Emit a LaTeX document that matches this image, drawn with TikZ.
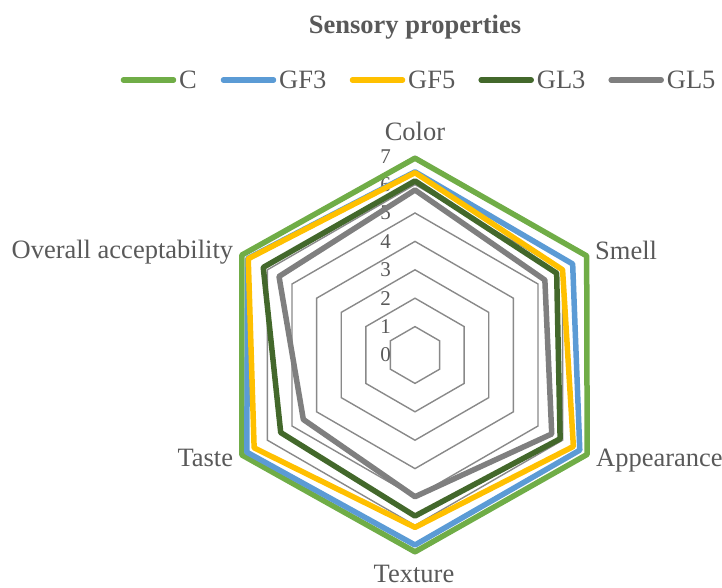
\documentclass[tikz,border=0pt]{standalone}
\usepackage{fontspec}
\setmainfont{Liberation Serif}
\newfontfamily\chartfont{Liberation Serif}
\usepackage{tikz}
\usetikzlibrary{calc}

\definecolor{txtgray}{HTML}{595959}
\definecolor{ringgray}{HTML}{898989}
\definecolor{serC}{HTML}{70AD47}
\definecolor{serGFiii}{HTML}{5B9BD5}
\definecolor{serGFv}{HTML}{FFC000}
\definecolor{serGLiii}{HTML}{43682B}
\definecolor{serGLv}{HTML}{7F7F7F}

\begin{document}
\begin{tikzpicture}[x=1pt, y=1pt,
      grid line/.style={draw=ringgray, line width=1.4},
      series/.style={line width=5.5, line join=round},
      legend line/.style={line width=5.5, line cap=round},
      every node/.style={text=txtgray, inner sep=0pt},
      axis label/.style={font=\chartfont\fontsize{26.5}{30}\selectfont},
      tick label/.style={font=\chartfont\fontsize{21}{24}\selectfont, anchor=east},
      title/.style={font=\chartfont\fontsize{26.5}{30}\selectfont\bfseries}
      ]
      \useasboundingbox (-415,-232) rectangle (307,355);
      \def\rstep{28.4}

      % title and legend
      \node[title, anchor=base] (Title) at (0,321.7) {Sensory properties};
      \foreach \name/\col/\xx in {C/serC/-236, GF3/serGFiii/-136, GF5/serGFv/-7,
                                  GL3/serGLiii/121.7, GL5/serGLv/251.7}{
        \node[axis label, anchor=west] (leg\name) at (\xx,275) {\name};
        \draw[legend line, draw=\col] ($(leg\name.west)+(-5.5,0)$) -- ++(-50,0);
      }

      % grid rings 1..7
      \foreach \v in {1,...,7}
        \draw[grid line] (90:{\v*\rstep}) -- (30:{\v*\rstep}) -- (-30:{\v*\rstep})
          -- (-90:{\v*\rstep}) -- (-150:{\v*\rstep}) -- (150:{\v*\rstep}) -- cycle;

      % scale
      \foreach \v in {0,...,7}
        \node[tick label] (tick\v) at (-24,{\v*\rstep}) {\v};

      % series: Color, Smell, Appearance, Texture, Taste, Overall
      \foreach \col/\a/\b/\c/\d/\e/\f in {
          serC/6.93/6.98/7.0/6.93/7.04/7.04,
          serGFiii/6.45/6.41/6.7/6.69/6.84/6.8,
          serGFv/6.42/6.0/6.44/6.07/6.54/6.78,
          serGLiii/6.13/5.76/5.9/5.67/5.46/6.17,
          serGLv/5.81/5.28/5.56/4.99/4.54/5.53}
        \draw[series, draw=\col] (90:{\a*\rstep}) -- (30:{\b*\rstep}) -- (-30:{\c*\rstep})
          -- (-90:{\d*\rstep}) -- (-150:{\e*\rstep}) -- (150:{\f*\rstep}) -- cycle;

      % category labels
      \node[axis label, anchor=base] (Color) at (0,214.3) {Color};
      \node[axis label, anchor=base west] (Smell) at (180,95.7) {Smell};
      \node[axis label, anchor=base west] (Appearance) at (181,-111.7) {Appearance};
      \node[axis label, anchor=base] (Texture) at (-1,-227.5) {Texture};
      \node[axis label, anchor=base east] (Taste) at (-181.7,-111.7) {Taste};
      \node[axis label, anchor=base east] (Overall) at (-181.7,96.7) {Overall acceptability};
\end{tikzpicture}
\end{document}
